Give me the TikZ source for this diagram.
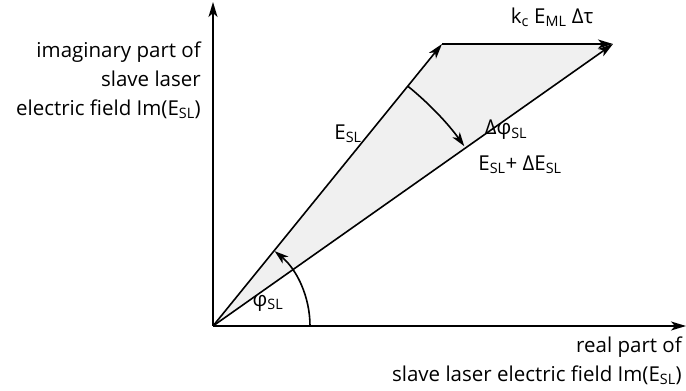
\documentclass[tikz,border=0pt]{standalone}
\usepackage{fontspec}
\setmainfont{Open Sans}
\usetikzlibrary{arrows.meta}
\newcommand\sbs[1]{\textsubscript{#1}}
\begin{document}
\begin{tikzpicture}[x=1pt,y=1pt,
  vec/.style={line width=1.6pt,-{Stealth[length=15pt,width=9pt,inset=4pt]}},
  arcv/.style={line width=1.6pt,-{Stealth[length=14pt,width=9pt,inset=4pt]}},
  lbl/.style={font=\fontsize{20.5}{29}\selectfont,inner sep=0pt}]
\useasboundingbox (0,0) rectangle (686,391);
\coordinate (O) at (213,65);
\coordinate (Ytop) at (213,389);
\coordinate (Xend) at (686,65);
\coordinate (A) at (442,347);
\coordinate (B) at (613,347);
\fill[gray!12] (O) -- (A) -- (B) -- cycle;
\draw[vec] (O) -- (Ytop);
\draw[vec] (O) -- (Xend);
\draw[vec] (O) -- (A);
\draw[vec] (O) -- (B);
\draw[vec] (A) -- (B);
% phi arc r=97
\draw[arcv] (O) ++(0:97) arc[start angle=0,end angle=50.5,radius=97];
% delta phi arc r=309
\draw[arcv] (O) ++(50.9:309) arc[start angle=50.9,end angle=35.6,radius=309];
\node[lbl,anchor=east,align=right] (ylab) at (201,311) {imaginary part of\\slave laser\\electric field Im(E\sbs{SL})};
\node[lbl,anchor=east,align=right] (xlab) at (682,30) {real part of\\slave laser electric field Im(E\sbs{SL})};
\node[lbl] (esl) at (348,257) {E\sbs{SL}};
\node[lbl] (dphi) at (506,261) {Δφ\sbs{SL}};
\node[lbl] (esld) at (520,226) {E\sbs{SL}+ ΔE\sbs{SL}};
\node[lbl] (kc) at (552,374) {k\sbs{c} E\sbs{ML} Δτ};
\node[lbl] (phi) at (268,88) {φ\sbs{SL}};
\end{tikzpicture}
\end{document}
